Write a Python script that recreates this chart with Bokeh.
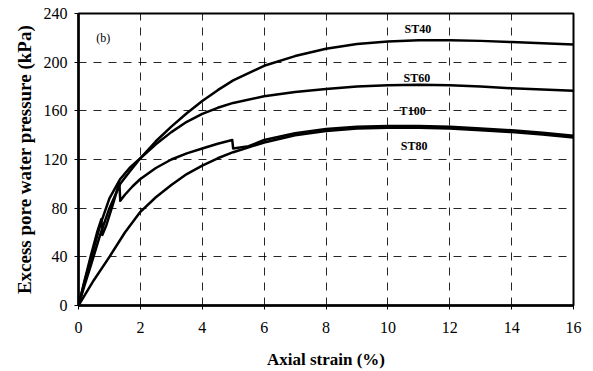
from bokeh.plotting import figure
from bokeh.models import FixedTicker, Range1d
from bokeh.core.properties import value
from bokeh.embed import file_html
from bokeh.resources import INLINE

# ---- data ----
st40_x = [0, 0.2, 0.4, 0.7, 1.0, 1.35, 1.65, 2.0, 2.5, 3.0, 3.5, 4.0, 4.5, 5.0, 6.0, 7.0, 8.0, 9.0, 10.0, 11.0, 12.0, 13.0, 14.0, 15.0, 16.0]
st40_y = [0, 17, 33, 58, 80, 100, 110, 121, 135, 147, 158, 168, 177, 185, 197, 205, 211, 215, 217, 218, 218, 217.5, 216.5, 215.5, 214.5]

st60_x = [0, 0.2, 0.4, 0.7, 1.0, 1.35, 1.65, 2.0, 2.5, 3.0, 3.5, 4.0, 4.5, 5.0, 6.0, 7.0, 8.0, 9.0, 10.0, 11.0, 12.0, 13.0, 14.0, 15.0, 16.0]
st60_y = [0, 20, 38, 66, 88, 104, 113, 121, 132.5, 142.5, 151, 157.5, 162.5, 166.5, 172, 175.5, 178, 180, 181, 181.5, 181, 180, 178.5, 177.5, 176.5]

t100_x = [0, 0.2, 0.4, 0.6, 0.74, 0.77, 0.9, 1.1, 1.32, 1.35, 1.5, 1.75, 2.0, 2.5, 3.0, 3.5, 4.0, 4.5, 4.97, 5.0, 5.5, 6.0, 7.0, 8.0, 9.0, 10.0, 11.0, 12.0, 13.0, 14.0, 15.0, 16.0]
t100_y = [0, 21, 41, 60, 71, 58, 66, 82, 101, 86, 91, 98, 104, 113, 120, 125, 129, 133, 136, 129, 131, 136, 141.5, 145, 147, 147.5, 147.5, 147, 145.5, 144, 142, 139.5]

st80_x = [0, 0.5, 1.0, 1.5, 2.0, 2.5, 3.0, 3.5, 4.0, 4.5, 5.0, 6.0, 7.0, 8.0, 9.0, 10.0, 11.0, 12.0, 13.0, 14.0, 15.0, 16.0]
st80_y = [0, 21, 40, 60, 77, 89, 99, 108, 115, 121, 126, 134, 140, 143.5, 145.5, 146, 146, 145.5, 144, 142.5, 140.5, 138]

x_ticks = [0, 2, 4, 6, 8, 10, 12, 14, 16]
y_ticks = [0, 40, 80, 120, 160, 200, 240]
labels = ["ST40", "ST60", "T100", "ST80"]

SERIF = "Liberation Serif"

p = figure(width=593, height=371, output_backend="svg", toolbar_location=None,
           x_range=Range1d(0, 16), y_range=Range1d(0, 240),
           min_border_left=78, min_border_right=20, min_border_top=13, min_border_bottom=66)
p.background_fill_color = "white"
p.border_fill_color = "white"
p.outline_line_color = "black"
p.outline_line_width = 2

# grid
for g, ticks in ((p.xgrid, x_ticks), (p.ygrid, y_ticks)):
    g.ticker = FixedTicker(ticks=ticks)
    g.grid_line_color = "black"
    g.grid_line_width = 1
    g.grid_line_dash = "8 7"
    g.grid_line_alpha = 0.85

# axes
p.xaxis.ticker = FixedTicker(ticks=x_ticks)
p.yaxis.ticker = FixedTicker(ticks=y_ticks)
for ax in (p.xaxis[0], p.yaxis[0]):
    ax.axis_line_width = 2.5
    ax.axis_line_color = "black"
    ax.major_tick_out = 4
    ax.major_tick_in = 0
    ax.minor_tick_out = 0
    ax.minor_tick_in = 0
    ax.major_tick_line_color = "black"
    ax.major_label_text_font = SERIF
    ax.major_label_text_font_size = "16px"
    ax.major_label_text_color = "black"
    ax.axis_label_text_font = SERIF
    ax.axis_label_text_font_style = "bold"
    ax.axis_label_text_color = "black"

p.xaxis.axis_label = "Axial strain (%)"
p.xaxis.axis_label_text_font_size = "17px"
p.xaxis.major_label_standoff = 12
p.xaxis.axis_label_standoff = 14

p.yaxis.axis_label = "Excess pore water pressure (kPa)"
p.yaxis.axis_label_text_font_size = "19px"
p.yaxis.major_label_standoff = 7
p.yaxis.axis_label_standoff = 6

# curves
for xs, ys in ((st40_x, st40_y), (st60_x, st60_y), (t100_x, t100_y), (st80_x, st80_y)):
    p.line(xs, ys, line_color="black", line_width=2.5, line_join="round")

# curve labels
p.text(x=[10.97, 10.94, 10.8, 10.85], y=[227.6, 187.3, 160, 131.5], text=labels,
       text_font=value(SERIF), text_font_style="bold", text_font_size="12px",
       text_align="center", text_baseline="middle", text_color="black")
p.text(x=[0.8], y=[220], text=["(b)"], text_font=value(SERIF), text_font_size="12px",
       text_align="center", text_baseline="middle", text_color="black")

open("out.html", "w").write(file_html(p, INLINE))
